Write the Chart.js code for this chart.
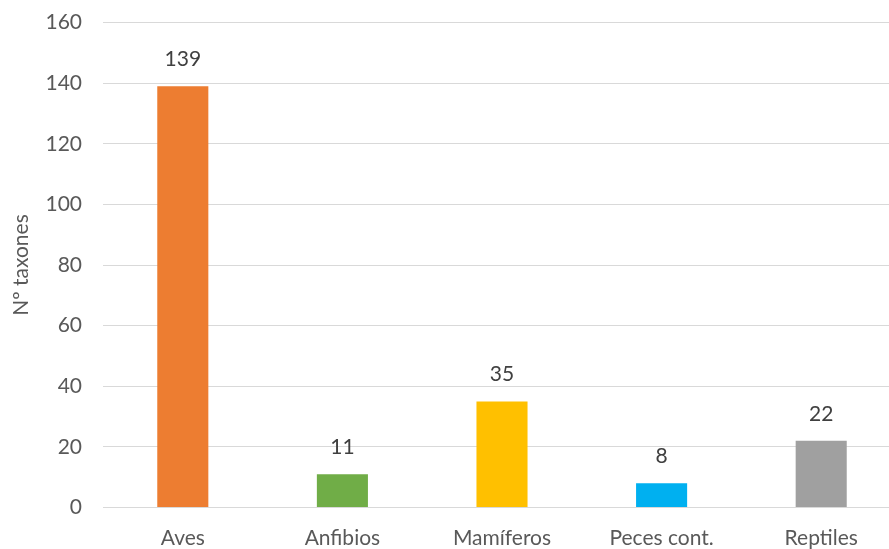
<!DOCTYPE html>
<html><head><meta charset="utf-8">
<script src="https://cdn.jsdelivr.net/npm/chart.js@4/dist/chart.umd.min.js"></script>
<style>
html,body{margin:0;padding:0;background:#fff;overflow:hidden;width:889px;height:549px;}
#wrap{width:901px;height:560px;position:relative;margin-top:-11px;}
</style></head><body>
<div id="wrap"><canvas id="c"></canvas></div>
<script>
const categories = ["Aves","Anfibios","Mamíferos","Peces cont.","Reptiles"];
const values = [139, 11, 35, 8, 22];
const colors = ["#ED7D31","#70AD47","#FFC000","#00B0F0","#A0A0A0"];
const yTicks = [0,20,40,60,80,100,120,140,160];
const yTitle = "Nº taxones";
const FONT = "Lato, 'Open Sans', sans-serif";

const labelPlugin = {
  id: 'barLabels',
  afterDatasetsDraw(chart) {
    const ctx = chart.ctx;
    const meta = chart.getDatasetMeta(0);
    ctx.save();
    ctx.font = "21px " + FONT;
    ctx.fillStyle = "#404040";
    ctx.textAlign = "center";
    ctx.textBaseline = "middle";
    meta.data.forEach((bar, i) => {
      ctx.fillText(String(values[i]), bar.x, bar.y - 27);
    });
    ctx.restore();
  }
};

new Chart(document.getElementById('c'), {
  type: 'bar',
  data: {
    labels: categories,
    datasets: [{ data: values, backgroundColor: colors, barPercentage: 0.32, categoryPercentage: 1.0 }]
  },
  options: {
    responsive: true,
    maintainAspectRatio: false,
    animation: false,
    layout: { padding: { top: 10, left: 0, right: 0, bottom: 0 } },
    plugins: { legend: { display: false }, tooltip: { enabled: false } },
    scales: {
      x: {
        grid: { display: false, drawTicks: false },
        border: { display: true, color: "#D9D9D9", width: 1 },
        ticks: { color: "#595959", font: { family: FONT, size: 21 }, padding: 18, maxRotation: 0 },
        afterFit(s) { s.height = 41.5; }
      },
      y: {
        min: 0, max: 160,
        afterBuildTicks(s) { s.ticks = yTicks.map(v => ({ value: v })); },
        grid: { color: "#D9D9D9", drawTicks: false },
        border: { display: false },
        ticks: { color: "#595959", font: { family: FONT, size: 21 }, padding: 21 },
        title: { display: true, text: yTitle, color: "#595959", font: { family: FONT, size: 21 }, padding: { top: 9, bottom: 0 } },
        afterFit(s) { s.width = 103; }
      }
    }
  },
  plugins: [labelPlugin]
});
</script>
</body></html>
